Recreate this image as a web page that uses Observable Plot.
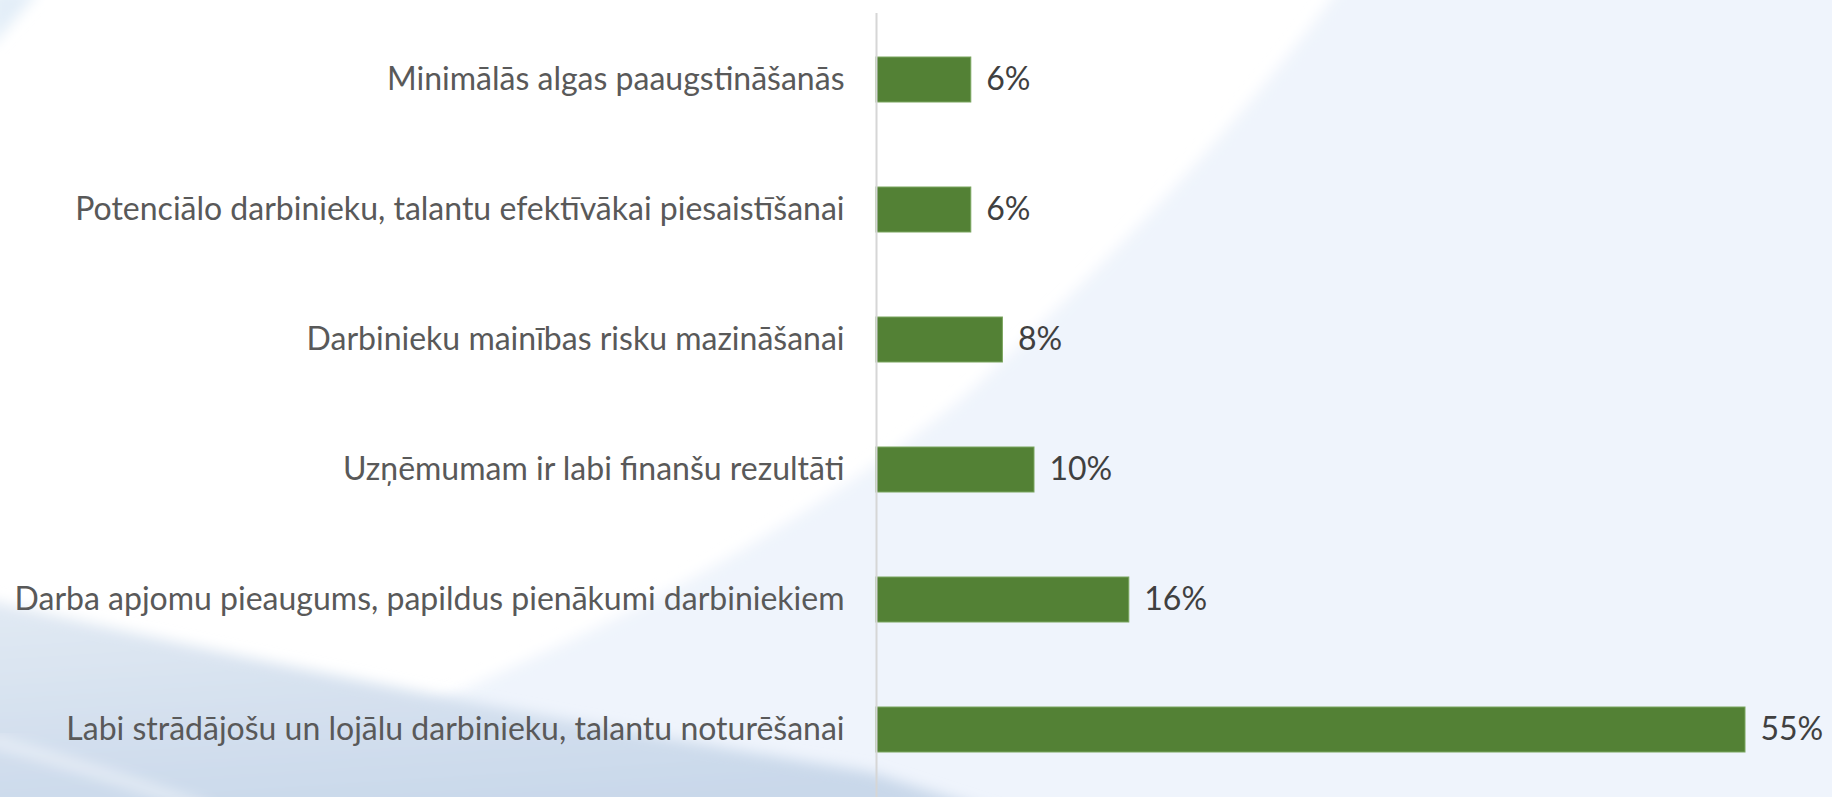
<!DOCTYPE html>
<html>
<head>
<meta charset="utf-8">
<script src="https://cdn.jsdelivr.net/npm/d3@7"></script>
<script src="https://cdn.jsdelivr.net/npm/@observablehq/plot@0.6"></script>
<style>
  html, body { margin: 0; padding: 0; background: #ffffff; }
  #wrap { position: relative; width: 1832px; height: 797px; overflow: hidden; font-family: Lato, "Noto Sans", sans-serif; }
  #bg { position: absolute; left: 0; top: 0; }
  #chart { position: absolute; left: 0; top: 0; }
</style>
</head>
<body>
<div id="wrap">
  <svg id="bg" width="1832" height="797" viewBox="0 0 1832 797">
    <defs>
      <filter id="soft" x="-10%" y="-10%" width="120%" height="120%">
        <feGaussianBlur stdDeviation="7"/>
      </filter>
      <linearGradient id="gray" x1="0" y1="0" x2="0.3" y2="1">
        <stop offset="0" stop-color="#e2eaf4"/>
        <stop offset="1" stop-color="#c9d8ea"/>
      </linearGradient>
    </defs>
    <rect width="1832" height="797" fill="#ffffff"/>
    <path filter="url(#soft)" fill="#eff4fc"
      d="M1345,-20 C1230,140 1080,290 960,400 C850,490 700,580 560,645 C450,695 330,750 230,817 L1852,817 L1852,-20 Z"/>
    <path filter="url(#soft)" fill="url(#gray)"
      d="M-20,598 C200,650 500,712 870,772 L1010,817 L-20,817 Z"/>
    <path filter="url(#soft)" fill="none" stroke="#ffffff" stroke-opacity="0.55" stroke-width="10"
      d="M-10,740 C60,760 140,785 210,810"/>
    <path filter="url(#soft)" fill="#e3eef8" d="M-10,-10 L40,-10 L-10,48 Z"/>
  </svg>
  <div id="chart"></div>
</div>
<script>
const categories = [
  "Minimālās algas paaugstināšanās",
  "Potenciālo darbinieku, talantu efektīvākai piesaistīšanai",
  "Darbinieku mainības risku mazināšanai",
  "Uzņēmumam ir labi finanšu rezultāti",
  "Darba apjomu pieaugums, papildus pienākumi darbiniekiem",
  "Labi strādājošu un lojālu darbinieku, talantu noturēšanai"
];
const values = [6, 6, 8, 10, 16, 55];

const data = categories.map((c, i) => ({label: c, value: values[i]}));

const chart = Plot.plot({
  width: 1832,
  height: 797,
  marginLeft: 876,
  marginRight: 8,
  marginTop: 13,
  marginBottom: 0,
  style: {background: "transparent", fontFamily: "Lato, 'Noto Sans', sans-serif", fontSize: "32px", color: "#595959"},
  x: {domain: [0, 60], axis: null},
  y: {domain: categories, paddingInner: 0.652, paddingOuter: 0.326, label: null},
  marks: [
    Plot.axisY({tickSize: 0, tickPadding: 32, fontSize: 32, label: null}),
    Plot.barX(data, {x: "value", y: "label", fill: "#538135", stroke: "#7aa55e", strokeWidth: 1}),
    Plot.ruleX([0], {stroke: "#d6d6d6", strokeWidth: 2}),
    Plot.text(data, {x: "value", y: "label", text: d => d.value + "%", dx: 15, textAnchor: "start", fill: "#404040", fontSize: 32})
  ]
});
document.getElementById("chart").appendChild(chart);
</script>
</body>
</html>
